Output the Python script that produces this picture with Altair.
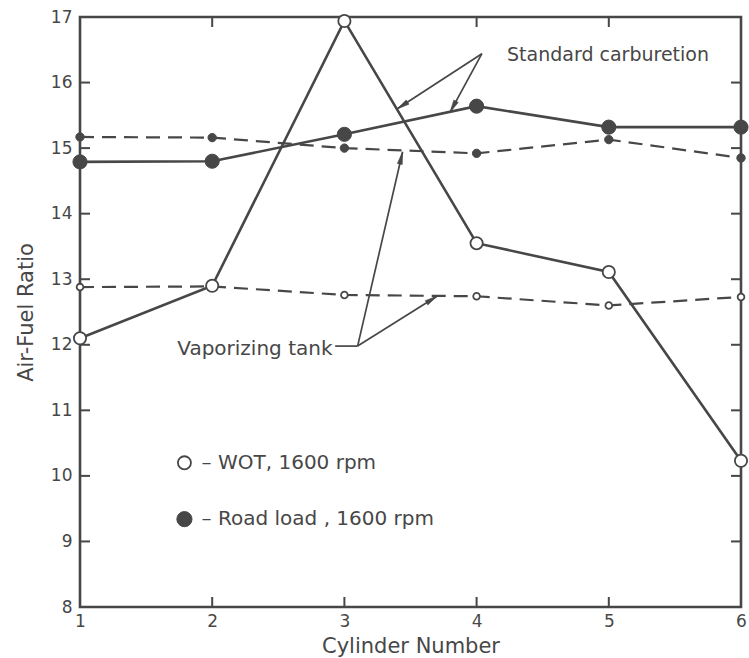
import altair as alt
import pandas as pd
import numpy as np

# ---- data ----
cylinders = [1, 2, 3, 4, 5, 6]
wot_standard = [12.1, 12.9, 16.94, 13.55, 13.11, 10.23]
wot_vaporizing = [12.88, 12.89, 12.76, 12.74, 12.6, 12.73]
road_standard = [14.79, 14.8, 15.21, 15.64, 15.32, 15.32]
road_vaporizing = [15.17, 15.16, 15.0, 14.92, 15.13, 14.85]

y_ticks = [9, 10, 11, 12, 13, 14, 15, 16]
x_ticks = [2, 3, 4, 5]

# annotations (data units)
std_label = "Standard carburetion"
std_label_pos = (4.23, 16.42)
std_start = (4.04, 16.44)
std_ends_x = [3.40, 3.80]
std_ends_y = [15.60, 15.55]

vap_label = "Vaporizing tank"
vap_label_pos = (2.91, 11.93)
vap_leader_x = [2.93, 3.10]
vap_leader_y = [11.98, 11.98]
vap_ends_x = [3.44, 3.70]
vap_ends_y = [14.94, 12.74]

legend_labels = ["–  WOT, 1600 rpm", "–  Road load , 1600 rpm"]
legend_y = [10.20, 9.34]
legend_marker_x = 1.79
legend_text_x = 1.92

# ---- layout ----
W, H = 661, 590
PAD = {"left": 80, "top": 17, "right": 8, "bottom": 51}
INK = "#474747"
FONT = "DejaVu Sans"
PX_X = W / 5.0
PX_Y = H / 9.0

xs = alt.Scale(domain=[1, 6], nice=False, zero=False)
ys = alt.Scale(domain=[8, 17], nice=False, zero=False)


def series_df(vals):
    return pd.DataFrame({"cyl": cylinders, "afr": vals})


def line_layer(vals, dash, width):
    kw = dict(color=INK, strokeWidth=width)
    if dash:
        kw["strokeDash"] = dash
    return alt.Chart(series_df(vals)).mark_line(**kw).encode(
        x=alt.X("cyl:Q", scale=xs), y=alt.Y("afr:Q", scale=ys)
    )


def point_layer(vals, open_, size):
    if open_:
        m = alt.Chart(series_df(vals)).mark_point(
            shape="circle", filled=True, fill="white", stroke=INK,
            strokeWidth=1.8, size=size, opacity=1, fillOpacity=1)
    else:
        m = alt.Chart(series_df(vals)).mark_point(
            shape="circle", filled=True, fill=INK, stroke=INK,
            strokeWidth=1, size=size, opacity=1, fillOpacity=1)
    return m.encode(x=alt.X("cyl:Q", scale=xs), y=alt.Y("afr:Q", scale=ys))


# base with axes
base = alt.Chart(series_df(wot_standard)).mark_point(opacity=0).encode(
    x=alt.X("cyl:Q", scale=xs, title="Cylinder Number",
            axis=alt.Axis(values=cylinders, format="d", domain=False, ticks=False,
                          grid=False, labelPadding=6, titlePadding=6,
                          labelFlush=False)),
    y=alt.Y("afr:Q", scale=ys, title="Air-Fuel Ratio",
            axis=alt.Axis(values=list(range(8, 18)), format="d", domain=False,
                          ticks=False, grid=False, labelPadding=8,
                          titlePadding=14, labelFlush=False)),
)

# inward tick marks
tl = pd.DataFrame({"v": y_ticks})
tx = pd.DataFrame({"v": x_ticks})
ticks = [
    alt.Chart(tl).mark_rule(color=INK, strokeWidth=2).encode(
        y=alt.Y("v:Q", scale=ys), x=alt.value(0), x2=alt.value(10)),
    alt.Chart(tl).mark_rule(color=INK, strokeWidth=2).encode(
        y=alt.Y("v:Q", scale=ys), x=alt.value(W - 10), x2=alt.value(W)),
    alt.Chart(tx).mark_rule(color=INK, strokeWidth=2).encode(
        x=alt.X("v:Q", scale=xs), y=alt.value(0), y2=alt.value(10)),
    alt.Chart(tx).mark_rule(color=INK, strokeWidth=2).encode(
        x=alt.X("v:Q", scale=xs), y=alt.value(H - 10), y2=alt.value(H)),
]

# arrows
seg_rows = []
head_rows = []


def add_arrow(sx, sy, ex, ey):
    seg_rows.append({"x": sx, "y": sy, "x2": ex, "y2": ey})
    dxp = (ex - sx) * PX_X
    dyp = -(ey - sy) * PX_Y
    L = float(np.hypot(dxp, dyp))
    ux, uy = dxp / L, dyp / L
    back = 6.0
    cx = ex - back * ux / PX_X
    cy = ey + back * uy / PX_Y
    ang = float(np.degrees(np.arctan2(dxp, -dyp))) % 360
    head_rows.append({"x": cx, "y": cy, "a": ang})


for ex, ey in zip(std_ends_x, std_ends_y):
    add_arrow(std_start[0], std_start[1], ex, ey)
seg_rows.append({"x": vap_leader_x[0], "y": vap_leader_y[0],
                 "x2": vap_leader_x[1], "y2": vap_leader_y[1]})
for ex, ey in zip(vap_ends_x, vap_ends_y):
    add_arrow(vap_leader_x[1], vap_leader_y[1], ex, ey)

segs = alt.Chart(pd.DataFrame(seg_rows)).mark_rule(color=INK, strokeWidth=1.7).encode(
    x=alt.X("x:Q", scale=xs), y=alt.Y("y:Q", scale=ys),
    x2="x2:Q", y2="y2:Q")
heads = alt.Chart(pd.DataFrame(head_rows)).mark_point(
    shape="M0,-1L0.4,1L-0.4,1Z", filled=True, fill=INK, stroke=INK,
    strokeWidth=0.5, size=160, opacity=1).encode(
    x=alt.X("x:Q", scale=xs), y=alt.Y("y:Q", scale=ys),
    angle=alt.Angle("a:Q", scale=None))

std_text = alt.Chart(pd.DataFrame({"x": [std_label_pos[0]], "y": [std_label_pos[1]],
                                   "t": [std_label]})).mark_text(
    font=FONT, fontSize=19, color=INK, baseline="middle", align="left").encode(
    x=alt.X("x:Q", scale=xs), y=alt.Y("y:Q", scale=ys), text="t:N")
vap_text = alt.Chart(pd.DataFrame({"x": [vap_label_pos[0]], "y": [vap_label_pos[1]],
                                   "t": [vap_label]})).mark_text(
    font=FONT, fontSize=20, color=INK, baseline="middle", align="right").encode(
    x=alt.X("x:Q", scale=xs), y=alt.Y("y:Q", scale=ys), text="t:N")

# legend (drawn inside the plot)
leg_open = alt.Chart(pd.DataFrame({"x": [legend_marker_x], "y": [legend_y[0]]})).mark_point(
    shape="circle", filled=True, fill="white", stroke=INK, strokeWidth=1.8,
    size=170, opacity=1).encode(x=alt.X("x:Q", scale=xs), y=alt.Y("y:Q", scale=ys))
leg_fill = alt.Chart(pd.DataFrame({"x": [legend_marker_x], "y": [legend_y[1]]})).mark_point(
    shape="circle", filled=True, fill=INK, stroke=INK, strokeWidth=1,
    size=230, opacity=1).encode(x=alt.X("x:Q", scale=xs), y=alt.Y("y:Q", scale=ys))
leg_text = alt.Chart(pd.DataFrame({"x": [legend_text_x] * 2, "y": legend_y,
                                   "t": legend_labels})).mark_text(
    font=FONT, fontSize=20, color=INK, baseline="middle", align="left").encode(
    x=alt.X("x:Q", scale=xs), y=alt.Y("y:Q", scale=ys), text="t:N")

layers = [base] + ticks + [
    line_layer(road_vaporizing, [14, 8], 2.2),
    line_layer(wot_vaporizing, [14, 8], 2.2),
    line_layer(road_standard, None, 2.6),
    line_layer(wot_standard, None, 2.6),
    segs, heads,
    point_layer(road_vaporizing, False, 70),
    point_layer(wot_vaporizing, True, 45),
    point_layer(road_standard, False, 200),
    point_layer(wot_standard, True, 150),
    std_text, vap_text, leg_open, leg_fill, leg_text,
]

chart = alt.layer(*layers).properties(
    width=W, height=H,
    autosize=alt.AutoSizeParams(type="none"),
    padding=PAD,
    background="white",
).configure_view(
    stroke=INK, strokeWidth=2.6
).configure_axis(
    labelFont=FONT, labelFontSize=17, labelColor=INK,
    titleFont=FONT, titleFontSize=21, titleColor=INK, titleFontWeight="normal",
)

chart.save("out.html", embed_options={"renderer": "svg", "actions": False})
